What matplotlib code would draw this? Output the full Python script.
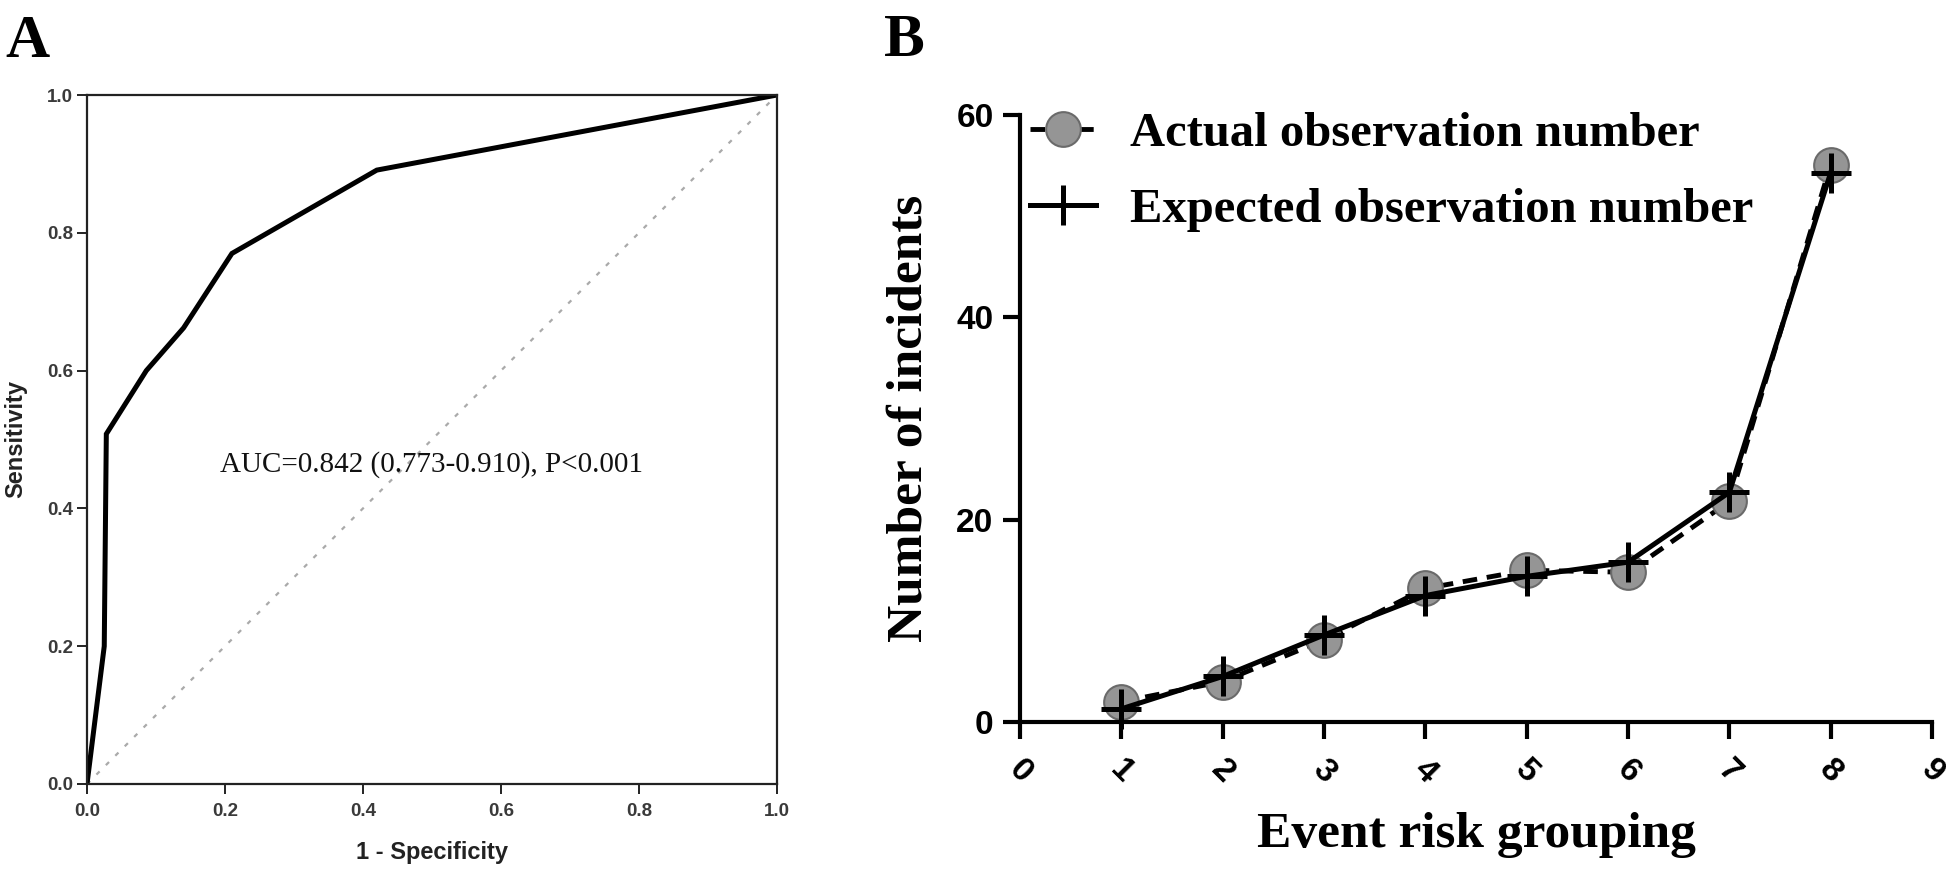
import numpy as np
import matplotlib
matplotlib.use('Agg')
import matplotlib.pyplot as plt

# panel A: ROC curve
fpr = [0.0, 0.025, 0.028, 0.086, 0.14, 0.21, 0.42, 1.0]
tpr = [0.0, 0.2, 0.508, 0.6, 0.662, 0.77, 0.891, 1.0]
auc_text = 'AUC=0.842 (0.773-0.910), P<0.001'
roc_ticks = [0.0, 0.2, 0.4, 0.6, 0.8, 1.0]

# panel B: calibration by risk group
groups = [1, 2, 3, 4, 5, 6, 7, 8]
actual = [2.0, 4.0, 8.1, 13.2, 15.0, 14.8, 21.8, 55.1]
expected = [1.3, 4.5, 8.6, 12.5, 14.4, 15.8, 22.7, 54.3]
b_xticks = list(range(10))
b_yticks = [0, 20, 40, 60]

W, H = 1946, 874
fig = plt.figure(figsize=(W / 100, H / 100), dpi=100)

serif = 'Liberation Serif'
sans = 'Liberation Sans'

# ---------- A ----------
axA = fig.add_axes([87 / W, 1 - 784 / H, 690 / W, 689 / H])
axA.plot([0, 1], [0, 1], color='#aaaaaa', lw=1.6, linestyle=(0, (2, 4)))
axA.plot(fpr, tpr, color='black', lw=3.6, solid_joinstyle='miter')
axA.set_xlim(0, 1)
axA.set_ylim(0, 1)
axA.set_xticks(roc_ticks)
axA.set_yticks(roc_ticks)
axA.set_xticklabels([f'{t:.1f}' for t in roc_ticks])
axA.set_yticklabels([f'{t:.1f}' for t in roc_ticks])
for s in axA.spines.values():
    s.set_linewidth(1.6)
    s.set_color('#222222')
axA.tick_params(direction='out', length=7, width=1.4, color='#222222',
                labelsize=13.5, labelcolor='#3a3a3a', pad=3)
for lb in axA.get_xticklabels() + axA.get_yticklabels():
    lb.set_fontfamily(sans)
    lb.set_fontweight('bold')
axA.tick_params(axis='x', pad=7)
axA.set_xlabel('1 - Specificity', fontsize=17, fontweight='bold', family=sans, color='#222222')
axA.set_ylabel('Sensitivity', fontsize=17, fontweight='bold', family=sans, color='#222222')
axA.xaxis.set_label_coords(0.5, (784 - 852) / 689)
axA.xaxis.label.set_va('center')
axA.yaxis.set_label_coords((16 - 87) / 690, 0.5)
axA.yaxis.label.set_va('center')
axA.text(0.499, 0.464, auc_text, fontsize=21, family=serif, ha='center', va='center',
         transform=axA.transAxes, color='#111111')

# ---------- B ----------
axB = fig.add_axes([1020 / W, 1 - 722 / H, 912 / W, 607 / H])
axB.plot(groups, actual, color='black', lw=3.5, linestyle=(0, (3, 2)),
         marker='o', markersize=25, markerfacecolor='#959595', markeredgecolor='#6a6a6a',
         markeredgewidth=1.5, label='Actual observation number', clip_on=False)
axB.plot(groups, expected, color='black', lw=3.6, marker='+', markersize=29,
         markeredgewidth=3.6, label='Expected observation number', clip_on=False)
axB.set_xlim(0, 9)
axB.set_ylim(0, 60)
axB.set_xticks(b_xticks)
axB.set_yticks(b_yticks)
axB.spines['top'].set_visible(False)
axB.spines['right'].set_visible(False)
for s in ['left', 'bottom']:
    axB.spines[s].set_linewidth(3)
axB.tick_params(direction='out', length=12, width=3, labelsize=24, pad=7)
axB.tick_params(axis='x', pad=11)
for lb in axB.get_xticklabels() + axB.get_yticklabels():
    lb.set_fontfamily(sans)
    lb.set_fontweight('bold')
for lb in axB.get_xticklabels():
    lb.set_rotation(-45)
    lb.set_ha('center')
axB.set_xlabel('Event risk grouping', fontsize=37, fontweight='bold', family=serif)
axB.set_ylabel('Number of incidents', fontsize=37, fontweight='bold', family=serif)
axB.xaxis.set_label_coords(0.5, (722 - 835) / 607)
axB.xaxis.label.set_va('center')
axB.yaxis.set_label_coords((910 - 1020) / 912, 0.5)
axB.yaxis.label.set_va('center')
axB.legend(loc='upper left', bbox_to_anchor=(1030 / W, 1 - 112 / H),
           bbox_transform=fig.transFigure, frameon=False,
           prop={'family': serif, 'weight': 'bold', 'size': 35},
           handlelength=1.35, handletextpad=0.7, labelspacing=0.66, borderpad=0, borderaxespad=0)

# panel letters
fig.text(5 / W, 1 - 57 / H, 'A', fontsize=44, fontweight='bold', family=serif, va='baseline')
fig.text(884 / W, 1 - 56 / H, 'B', fontsize=44, fontweight='bold', family=serif, va='baseline')

fig.savefig('out.png', dpi=100)
